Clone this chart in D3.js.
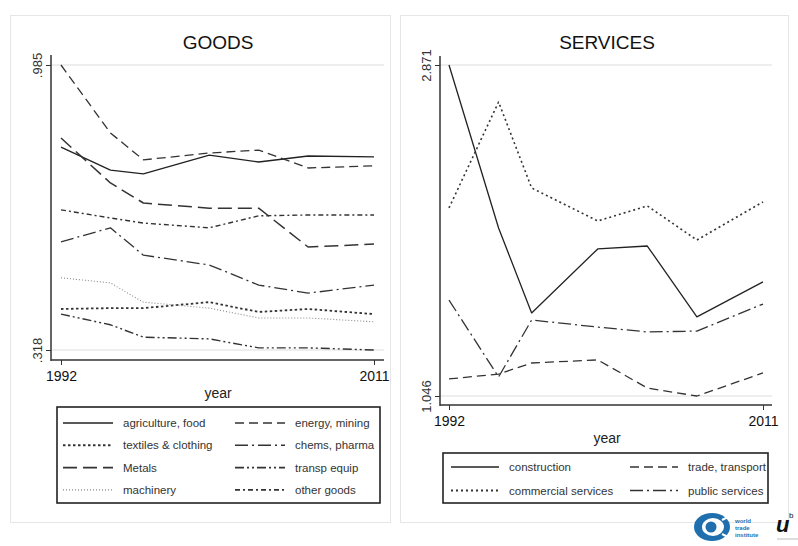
<!DOCTYPE html>
<html><head><meta charset="utf-8">
<script src="https://cdn.jsdelivr.net/npm/d3@7"></script>
<style>body{margin:0;background:#fff}svg{display:block}text{font-family:"Liberation Sans",Arial,sans-serif}</style>
</head><body>
<svg id="c" width="798" height="546"></svg>
<script>
const years = [1992, 1995, 1997, 2001, 2004, 2007, 2011];
const goodsTicks = [0.318, 0.985];
const goodsTickLabels = [".318", ".985"];
const servTicks = [1.046, 2.871];
const servTickLabels = ["1.046", "2.871"];
const yearTicks = [1992, 2011];

const goodsNames = ["agriculture, food","energy, mining","textiles & clothing","chems, pharma","Metals","transp equip","machinery","other goods"];
const agriculture = [0.793,0.739,0.730,0.774,0.758,0.772,0.770];
const energy      = [0.985,0.826,0.763,0.779,0.786,0.744,0.749];
const textiles    = [0.414,0.416,0.416,0.430,0.407,0.414,0.402];
const chems       = [0.571,0.604,0.540,0.517,0.470,0.451,0.470];
const metals      = [0.814,0.709,0.662,0.650,0.650,0.559,0.566];
const transp      = [0.402,0.377,0.348,0.344,0.323,0.323,0.318];
const machinery   = [0.487,0.475,0.430,0.416,0.393,0.393,0.384];
const otherGoods  = [0.646,0.627,0.615,0.604,0.632,0.634,0.634];

const servNames = ["construction","trade, transport","commercial services","public services"];
const construction = [2.871,1.972,1.504,1.857,1.873,1.482,1.675];
const trade        = [1.140,1.167,1.228,1.245,1.090,1.046,1.173];
const commercial   = [2.083,2.667,2.193,2.011,2.094,1.906,2.116];
const publicServ   = [1.575,1.151,1.465,1.426,1.399,1.404,1.553];

const goodsSeries = [agriculture, energy, textiles, chems, metals, transp, machinery, otherGoods];
const servSeries = [construction, trade, commercial, publicServ];

const goodsStyle = [
  {dash:null, color:"#222", w:1.3},
  {dash:"9,5", color:"#333", w:1.3},
  {dash:"2.5,2.5", color:"#333", w:1.8},
  {dash:"13,4,2,4", color:"#333", w:1.3},
  {dash:"14,6", color:"#333", w:1.5},
  {dash:"9,3,2,3,2,3", color:"#333", w:1.4},
  {dash:"1,2", color:"#888", w:1.1},
  {dash:"5,3,2,3", color:"#333", w:1.4}
];
const servStyle = [
  {dash:null, color:"#222", w:1.3},
  {dash:"9,5", color:"#333", w:1.3},
  {dash:"2,3", color:"#333", w:1.6},
  {dash:"13,4,2,4", color:"#333", w:1.3}
];

const svg = d3.select("#c");

// panel frames
svg.append("rect").attr("x",10.5).attr("y",15.5).attr("width",380).attr("height",507).attr("fill","#fff").attr("stroke","#e6e6e6");
svg.append("rect").attr("x",400.5).attr("y",15.5).attr("width",388).attr("height",507).attr("fill","#fff").attr("stroke","#e6e6e6");

function panel(cfg){
  const x = d3.scaleLinear().domain([1992,2011]).range(cfg.xr);
  const y = d3.scaleLinear().domain(cfg.yd).range(cfg.yr);
  const g = svg.append("g");
  // gridlines
  g.selectAll(".grid").data(cfg.ticks).join("line")
    .attr("x1",cfg.axX).attr("x2",cfg.plotRight)
    .attr("y1",d=>y(d)).attr("y2",d=>y(d))
    .attr("stroke","#e8e8e8").attr("stroke-width",1.5);
  // y axis
  const ya = g.append("g").attr("transform",`translate(${cfg.axX},0)`)
    .call(d3.axisLeft(y).tickValues(cfg.ticks).tickFormat((d,i)=>cfg.tickLabels[i]).tickSize(5).tickSizeOuter(0));
  ya.select(".domain").remove();
  ya.selectAll("line").attr("stroke","#333");
  ya.selectAll("text").attr("transform","translate(-9,0) rotate(-90)")
    .attr("x",0).attr("y",0).attr("dy",0).attr("text-anchor","middle").attr("font-size",13).attr("fill","#333");
  g.append("line").attr("x1",cfg.axX).attr("x2",cfg.axX).attr("y1",cfg.yTop).attr("y2",cfg.axY+1).attr("stroke","#333").attr("stroke-width",1.5);
  // x axis
  const xa = g.append("g").attr("transform",`translate(0,${cfg.axY})`)
    .call(d3.axisBottom(x).tickValues(yearTicks).tickFormat(d3.format("d")).tickSize(5).tickSizeOuter(0));
  xa.select(".domain").remove();
  xa.selectAll("line").attr("stroke","#333");
  xa.selectAll("text").attr("font-size",14).attr("fill","#111").attr("dy","0.95em");
  g.append("line").attr("x1",cfg.axX).attr("x2",cfg.plotRight).attr("y1",cfg.axY).attr("y2",cfg.axY).attr("stroke","#333").attr("stroke-width",1.5);
  // titles
  g.append("text").attr("x",cfg.titleX).attr("y",49).attr("text-anchor","middle").attr("font-size",19).attr("fill","#111").text(cfg.title);
  g.append("text").attr("x",cfg.titleX).attr("y",cfg.axY+38).attr("text-anchor","middle").attr("font-size",14).attr("fill","#222").text("year");
  // lines
  const line = d3.line().x((d,i)=>x(years[i])).y(d=>y(d));
  cfg.series.forEach((s,i)=>{
    const st = cfg.styles[i];
    g.append("path").datum(s).attr("d",line).attr("fill","none")
      .attr("stroke",st.color).attr("stroke-width",st.w)
      .attr("stroke-dasharray",st.dash).attr("stroke-linejoin","round");
  });
  // legend
  const L = cfg.legend;
  g.append("rect").attr("x",L.x).attr("y",L.y).attr("width",L.w).attr("height",L.h)
    .attr("fill","#fff").attr("stroke","#222").attr("stroke-width",1.6);
  cfg.names.forEach((n,i)=>{
    const col = i%2, row = Math.floor(i/2);
    const cx = col===0 ? L.c1 : L.c2;
    const cy = L.y + L.top + row*L.rowH;
    const st = cfg.styles[i];
    g.append("line").attr("x1",cx).attr("x2",cx+L.sw).attr("y1",cy).attr("y2",cy)
      .attr("stroke",st.color).attr("stroke-width",st.w+0.3).attr("stroke-dasharray",st.dash);
    g.append("text").attr("x",cx+L.sw+10).attr("y",cy+4).attr("font-size",11.5).attr("fill","#333").text(n);
  });
}

panel({xr:[61,374], yd:[0.318,0.985], yr:[350,65], ticks:goodsTicks, tickLabels:goodsTickLabels,
  axX:51, axY:360, yTop:55, plotRight:384, titleX:218, title:"GOODS",
  series:goodsSeries, styles:goodsStyle, names:goodsNames,
  legend:{x:57,y:407,w:323,h:96,top:16,rowH:22.3,c1:63,c2:235,sw:50}});

panel({xr:[449,763], yd:[1.046,2.871], yr:[396,65], ticks:servTicks, tickLabels:servTickLabels,
  axX:440, axY:405, yTop:56, plotRight:772, titleX:607, title:"SERVICES",
  series:servSeries, styles:servStyle, names:servNames,
  legend:{x:443,y:453,w:325,h:50,top:14,rowH:23.5,c1:451,c2:630,sw:48}});

// logo
const lg = svg.append("g");
lg.append("ellipse").attr("cx",712).attr("cy",527).attr("rx",18).attr("ry",14).attr("fill","#1f6fae");
lg.append("ellipse").attr("cx",713).attr("cy",527).attr("rx",11).attr("ry",9).attr("fill","#fff");
lg.append("circle").attr("cx",711).attr("cy",527).attr("r",5.5).attr("fill","#1f6fae");
lg.append("line").attr("x1",722).attr("x2",730).attr("y1",520).attr("y2",516).attr("stroke","#fff").attr("stroke-width",2);
lg.append("line").attr("x1",722).attr("x2",730).attr("y1",534).attr("y2",538).attr("stroke","#fff").attr("stroke-width",2);
["world","trade","institute"].forEach((t,i)=>{
  lg.append("text").attr("x",735).attr("y",523+i*7).attr("font-size",6).attr("font-weight","bold").attr("fill","#1f6fae").text(t);
});
lg.append("text").attr("x",776).attr("y",532).attr("font-size",22).attr("font-family","Liberation Serif, serif").attr("font-style","italic").attr("font-weight","bold").attr("fill","#111").text("u");
lg.append("text").attr("x",789).attr("y",518).attr("font-size",8).attr("font-family","Liberation Serif, serif").attr("fill","#111").text("b");
lg.append("line").attr("x1",777).attr("x2",798).attr("y1",539).attr("y2",539).attr("stroke","#bbb").attr("stroke-width",1);
</script>
</body></html>
